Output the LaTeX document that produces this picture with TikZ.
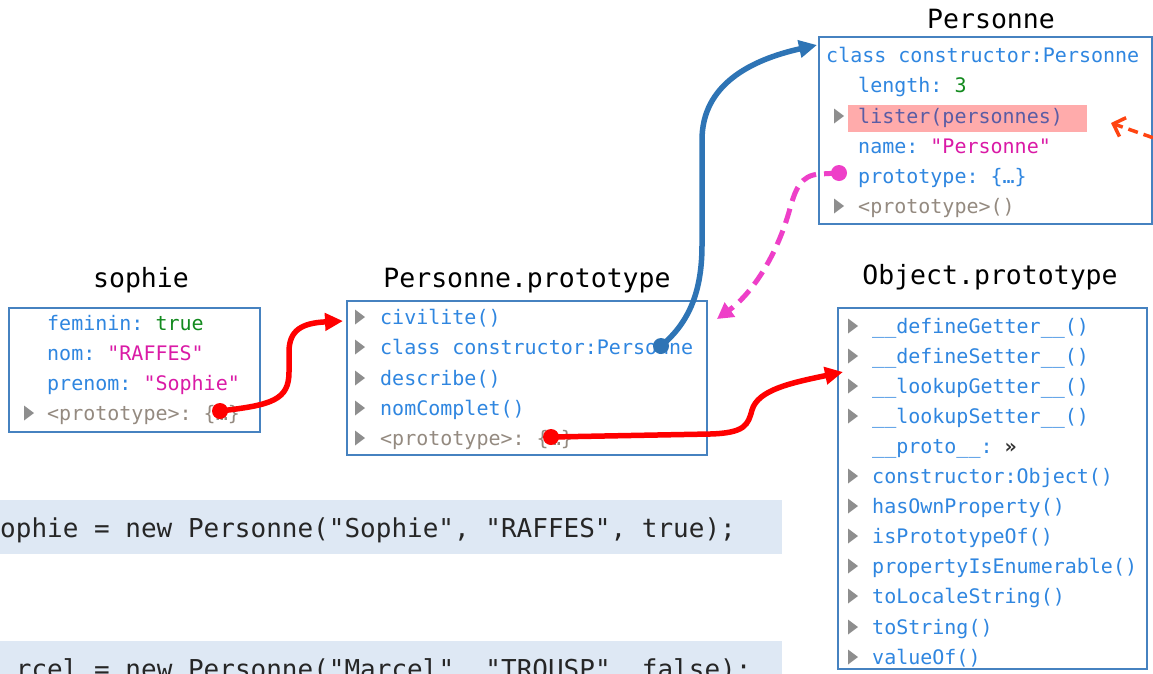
\documentclass[tikz,border=0pt]{standalone}
\usepackage{fontspec}
\setmonofont{DejaVu Sans Mono}
\usetikzlibrary{arrows.meta}
\definecolor{boxblue}{HTML}{4682C0}
\definecolor{pblue}{HTML}{2F86E0}
\definecolor{strmag}{HTML}{DA1AA6}
\definecolor{grn}{HTML}{138A1E}
\definecolor{gry}{HTML}{948A80}
\definecolor{trigray}{HTML}{8E8E8E}
\definecolor{hlpink}{HTML}{FFABAB}
\definecolor{lstcol}{HTML}{5A5CA4}
\definecolor{codebg}{HTML}{DEE8F4}
\definecolor{arrred}{HTML}{FF0000}
\definecolor{arrblue}{HTML}{2E74B5}
\definecolor{arrmag}{HTML}{EE3FC8}
\definecolor{arrorg}{HTML}{FF4411}
\newcommand\trimark[2]{\fill[trigray] (#1-1,#2-7.5) -- (#1+9,#2) -- (#1-1,#2+7.5) -- cycle;}
\tikzset{
  boxframe/.style={draw=boxblue, line width=1.8pt, inner sep=0pt, fill=white},
  rowtxt/.style={anchor=base west, inner sep=0pt, font=\ttfamily\fontsize{20}{20}\selectfont, text=pblue},
  titletxt/.style={anchor=base, inner sep=0pt, font=\ttfamily\fontsize{26.5}{26.5}\selectfont, text=black},
  codetxt/.style={anchor=base west, inner sep=0pt, font=\ttfamily\fontsize{26}{26}\selectfont, text=black!85},
  jdot/.style={circle, fill=#1, inner sep=0pt, minimum size=16pt},
  redarrow/.style={draw=arrred, line width=5.5pt, -{Triangle[length=18pt,width=17pt]}},
  bluearrow/.style={draw=arrblue, line width=5.5pt, -{Triangle[length=18pt,width=17pt]}},
  magarrow/.style={draw=arrmag, line width=5pt, dash pattern=on 15pt off 8pt, -{Triangle[length=16pt,width=17pt]}},
  orgarrow/.style={draw=arrorg, line width=3.5pt, dash pattern=on 10pt off 6pt, -{Straight Barb[length=10pt,width=20pt]}},
}
\begin{document}
\begin{tikzpicture}[x=1pt,y=-1pt]
\useasboundingbox (0,0) rectangle (1153,673);
\clip (0,0) rectangle (1153,673);
\fill[white] (0,0) rectangle (1153,673);

% code lines
\node[fill=codebg, inner sep=0pt, minimum width=800pt, minimum height=54pt] (cb1) at (382,527) {};
\node[codetxt] (c1) at (0,537) {ophie = new Personne("Sophie", "RAFFES", true);};
\node[fill=codebg, inner sep=0pt, minimum width=800pt, minimum height=60pt] (cb2) at (382,671) {};
\node[codetxt] (c2) at (15.7,678) {rcel = new Personne("Marcel", "TROUSP", false);};

% titles
\node[titletxt] (tPers) at (991,28) {Personne};
\node[titletxt] (tSoph) at (141,287) {sophie};
\node[titletxt] (tProto) at (527,287) {Personne.prototype};
\node[titletxt] (tObj) at (990,284) {Object.prototype};

% boxes
\node[boxframe, minimum width=333pt, minimum height=187pt] (persBox) at (985.5,130.5) {};
\node[boxframe, minimum width=251pt, minimum height=124pt] (sophBox) at (134.5,370) {};
\node[boxframe, minimum width=360pt, minimum height=154pt] (protoBox) at (527,378) {};
\node[boxframe, minimum width=309pt, minimum height=361pt] (objBox) at (992.5,488.5) {};

% Personne box
\node[fill=hlpink, inner sep=0pt, minimum width=239pt, minimum height=27pt] (hl) at (967.5,118.5) {};
\node[rowtxt] (p1) at (826,62) {class constructor:Personne};
\node[rowtxt] (p2) at (858,92) {length: \textcolor{grn}{3}};
\trimark{835}{116}
\node[rowtxt, text=lstcol] (p3) at (858,123) {lister(personnes)};
\node[rowtxt] (p4) at (858,153) {name: \textcolor{strmag}{"Personne"}};
\node[rowtxt] (p5) at (858,183) {prototype: \{…\}};
\trimark{835}{206}
\node[rowtxt, text=gry] (p6) at (858,213) {<prototype>()};

% sophie box
\node[rowtxt] (s1) at (47,330) {feminin: \textcolor{grn}{true}};
\node[rowtxt] (s2) at (47,360) {nom: \textcolor{strmag}{"RAFFES"}};
\node[rowtxt] (s3) at (47,390) {prenom: \textcolor{strmag}{"Sophie"}};
\trimark{25}{413}
\node[rowtxt, text=gry] (s4) at (47,420) {<prototype>: \{…\}};

% Personne.prototype box
\trimark{356}{317}
\node[rowtxt] (r1) at (380,324) {civilite()};
\trimark{356}{347}
\node[rowtxt] (r2) at (380,354) {class constructor:Personne};
\trimark{356}{378}
\node[rowtxt] (r3) at (380,385) {describe()};
\trimark{356}{408}
\node[rowtxt] (r4) at (380,415) {nomComplet()};
\trimark{356}{438}
\node[rowtxt, text=gry] (r5) at (380,445) {<prototype>: \{…\}};

% Object.prototype box
\trimark{849}{326}
\node[rowtxt] (o1) at (872,333) {\_\_defineGetter\_\_()};
\trimark{849}{356}
\node[rowtxt] (o2) at (872,363) {\_\_defineSetter\_\_()};
\trimark{849}{386}
\node[rowtxt] (o3) at (872,393) {\_\_lookupGetter\_\_()};
\trimark{849}{416}
\node[rowtxt] (o4) at (872,423) {\_\_lookupSetter\_\_()};
\node[rowtxt] (o5) at (872,453) {\_\_proto\_\_: \textcolor{black!80}{\textbf{»}}};
\trimark{849}{476}
\node[rowtxt] (o6) at (872,483) {constructor:Object()};
\trimark{849}{506}
\node[rowtxt] (o7) at (872,513) {hasOwnProperty()};
\trimark{849}{536}
\node[rowtxt] (o8) at (872,543) {isPrototypeOf()};
\trimark{849}{566}
\node[rowtxt] (o9) at (872,573) {propertyIsEnumerable()};
\trimark{849}{596}
\node[rowtxt] (o10) at (872,603) {toLocaleString()};
\trimark{849}{627}
\node[rowtxt] (o11) at (872,634) {toString()};
\trimark{849}{657}
\node[rowtxt] (o12) at (872,664) {valueOf()};

% connectors
\coordinate (d1) at (220,411);
\coordinate (t1) at (343,321);
\draw[redarrow] (d1) .. controls (272,405) and (289,400) .. (289,372) -- (289,352) .. controls (289,330) and (302,323) .. (t1);
\node[jdot=arrred] (d1dot) at (d1) {};

\coordinate (d2) at (661,346);
\coordinate (t2) at (817,45);
\draw[bluearrow] (d2) .. controls (690,322) and (702,290) .. (702,245) -- (702,140) .. controls (702,85) and (750,60) .. (t2);
\node[jdot=arrblue] (d2dot) at (d2) {};

\coordinate (d3) at (839,173);
\coordinate (t3) at (717,319);
\draw[magarrow] (d3) -- (820,174) .. controls (800,175) and (795,190) .. (789,212) .. controls (775,260) and (750,295) .. (t3);
\node[jdot=arrmag] (d3dot) at (d3) {};

\coordinate (d4) at (551,437);
\coordinate (t4) at (843,372);
\draw[redarrow] (d4) -- (710,434) .. controls (745,433) and (748,425) .. (752,410) .. controls (758,390) and (790,383) .. (t4);
\node[jdot=arrred] (d4dot) at (d4) {};

\coordinate (f5) at (1168,143);
\coordinate (t5) at (1111,123);
\draw[orgarrow] (f5) -- (t5);
\end{tikzpicture}
\end{document}
